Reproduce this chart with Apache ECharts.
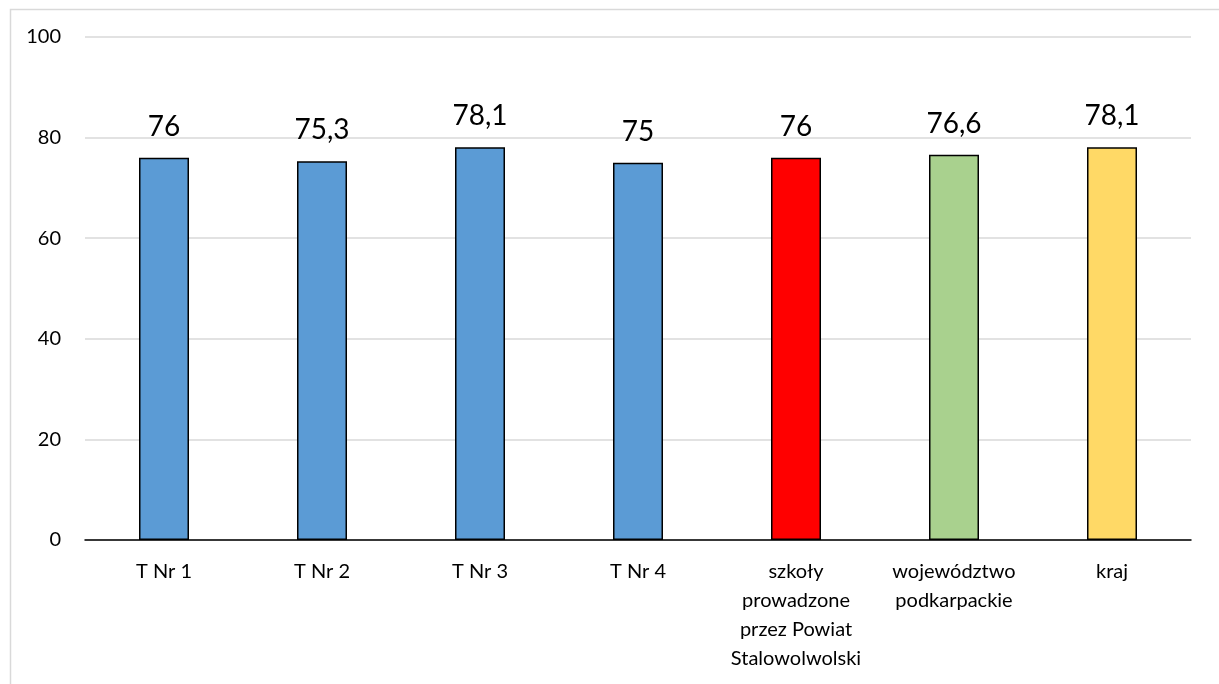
<!DOCTYPE html>
<html><head><meta charset="utf-8">
<script src="https://cdn.jsdelivr.net/npm/echarts@6/dist/echarts.min.js"></script>
<style>html,body{margin:0;padding:0;background:#fff}#c{width:1219px;height:684px}</style>
</head><body><div id="c"></div>
<script>
const categories = ['T Nr 1', 'T Nr 2', 'T Nr 3', 'T Nr 4', 'szkoły\nprowadzone\nprzez Powiat\nStalowolwolski', 'województwo\npodkarpackie', 'kraj'];
const values = [76, 75.3, 78.1, 75, 76, 76.6, 78.1];
const barColors = ['#5b9bd5', '#5b9bd5', '#5b9bd5', '#5b9bd5', '#ff0000', '#a9d18e', '#ffd966'];
const yTicks = [0, 20, 40, 60, 80, 100];

const FONT = 'Lato';
const chart = echarts.init(document.getElementById('c'), null, {renderer: 'canvas'});
chart.setOption({
  animation: false,
  backgroundColor: '#fff',
  textStyle: {fontFamily: FONT},
  graphic: [{
    type: 'rect', left: 8, top: 7, silent: true, z: -10,
    shape: {x: 0, y: 0, width: 1240, height: 700},
    style: {fill: 'none', stroke: '#d9d9d9', lineWidth: 1.5}
  }],
  grid: {left: 85, right: 28, top: 37, bottom: 144, containLabel: false},
  xAxis: {
    type: 'category',
    data: categories,
    axisLine: {lineStyle: {color: '#000', width: 1.5}},
    axisTick: {show: false},
    axisLabel: {color: '#000', fontSize: 20, lineHeight: 29, margin: 17, interval: 0, fontFamily: FONT}
  },
  yAxis: {
    type: 'value', min: yTicks[0], max: yTicks[yTicks.length - 1], interval: 20,
    axisLine: {show: false}, axisTick: {show: false},
    splitLine: {lineStyle: {color: '#d9d9d9', width: 1.5}},
    axisLabel: {color: '#000', fontSize: 20, margin: 24, fontFamily: FONT}
  },
  series: [{
    type: 'bar',
    barWidth: 50,
    data: values.map((v, i) => ({value: v, itemStyle: {color: barColors[i]}})),
    itemStyle: {borderColor: '#000', borderWidth: 1.5},
    label: {
      show: true, position: 'top', distance: 17, color: '#000', fontSize: 28, fontFamily: FONT,
      formatter: p => String(p.value).replace('.', ',')
    }
  }]
});
</script></body></html>
